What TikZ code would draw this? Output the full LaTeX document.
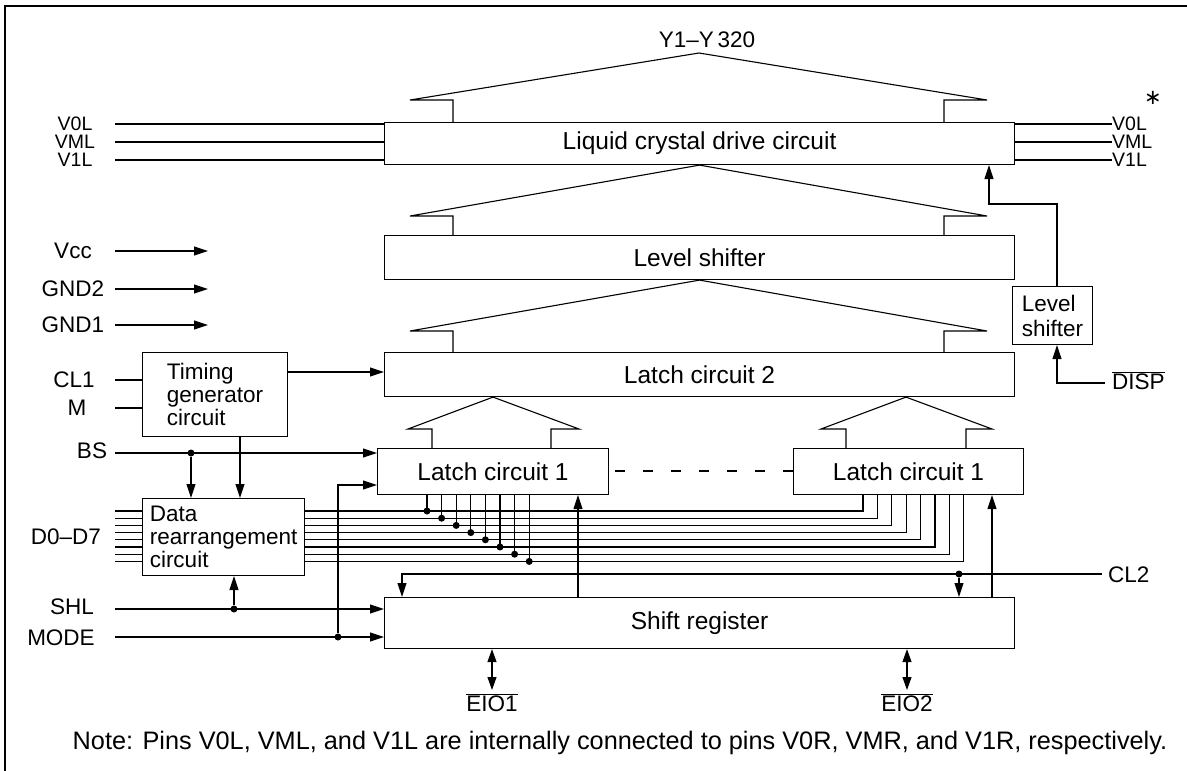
\documentclass[tikz,border=0pt]{standalone}
\usepackage{fontspec}
\setmainfont{Liberation Sans}
\newfontfamily\symfont{DejaVu Sans}
\usetikzlibrary{arrows.meta,calc}

\tikzset{
  wire/.style={line width=1.1pt},
  arr/.style={wire, -{Triangle[length=14pt,width=9pt]}},
  darr/.style={wire, {Triangle[length=13pt,width=9pt]}-{Triangle[length=13pt,width=9pt]}},
  blk/.style={draw, line width=1.1pt, anchor=north west, inner sep=0pt},
  bigtxt/.style={font=\fontsize{24.5}{26}\selectfont},
  lbl/.style={inner sep=0pt},
  vlbl/.style={inner sep=0pt, font=\fontsize{19.5}{20}\selectfont},
  pin/.style={fill, circle, inner sep=0pt, minimum size=7pt},
}
\newcommand{\ovl}[1]{$\overline{\mbox{#1}}$}

\begin{document}
\begin{tikzpicture}[x=1pt, y=-1pt, font=\fontsize{22.5}{23}\selectfont]
  %%%%% START %%%%%
  \useasboundingbox (0,0) rectangle (1187,771);
  \draw[wire] (5,771) -- (5,6) -- (1187,6);

  % blocks
  \node[blk, bigtxt, minimum width=630pt, minimum height=42pt] (lcd) at (384,122) {Liquid crystal drive circuit};
  \node[blk, bigtxt, minimum width=630pt, minimum height=44pt] (ls) at (384,235) {Level shifter};
  \node[blk, bigtxt, minimum width=630pt, minimum height=44pt] (l2) at (384,352) {Latch circuit 2};
  \node[blk, bigtxt, minimum width=231pt, minimum height=46pt] (l1a) at (377,448) {Latch circuit 1};
  \node[blk, bigtxt, minimum width=230pt, minimum height=46pt] (l1b) at (793,448) {Latch circuit 1};
  \node[blk, bigtxt, minimum width=630pt, minimum height=51pt] (sr) at (384,597) {Shift register};
  \node[blk, align=left, minimum width=145pt, minimum height=84pt] (tg) at (142,352) {Timing\\generator\\circuit};
  \node[blk, align=left, minimum width=162pt, minimum height=77pt] (dr) at (142,498) {Data\\rearrangement\\circuit};
  \node[blk, align=left, minimum width=80pt, minimum height=58pt, font=\fontsize{22.5}{25}\selectfont] (sls) at (1012,286) {Level\\shifter};

  % fans
  \coordinate (ytop) at (699,53);
  \node[lbl] (yout) at (707,40) {Y1--Y\,320};
  \draw[wire] (lcd.north -| 453,0) -- (453,100) -- (410,100) -- (ytop) -- (987,100) -- (944,100) -- (lcd.north -| 944,0);
  \draw[wire] (ls.north -| 453,0) -- (453,216) -- (410,216) -- (lcd.south) -- (987,216) -- (944,216) -- (ls.north -| 944,0);
  \draw[wire] (l2.north -| 453,0) -- (453,331) -- (410,331) -- (ls.south) -- (987,331) -- (944,331) -- (l2.north -| 944,0);
  \draw[wire] (l1a.north -| 432,0) -- (432,429) -- (408,429) -- (l2.south -| 493,0) -- (579,429) -- (551,429) -- (l1a.north -| 551,0);
  \draw[wire] (l1b.north -| 846,0) -- (846,429) -- (821,429) -- (l2.south -| 906,0) -- (992,429) -- (966,429) -- (l1b.north -| 966,0);
  \draw[wire, dash pattern=on 10pt off 18pt] (615,471) -- (l1b.west |- 0,471);

  % supply pins
  \foreach \t/\y in {V0L/124, VML/142, V1L/160} {
    \node[vlbl] (vl\t) at (75,\y) {\t};
    \node[vlbl, anchor=west] (vr\t) at (1112,\y) {\t};
    \draw[wire] (115,\y) -- (lcd.west |- 0,\y);
    \draw[wire] (lcd.east |- 0,\y) -- (vr\t.west);
  }
  \node[lbl, font=\fontsize{21}{21}\symfont] (star) at (1153,98) {∗};
  \foreach \t/\y in {Vcc/251, GND2/289, GND1/325} {
    \node[lbl] (p\t) at (73,\y) {\t};
    \draw[arr] (115,\y) -- (208,\y);
  }

  % control inputs
  \node[lbl] (cl1) at (74,380) {CL1};
  \node[lbl] (mm) at (77,408) {M};
  \draw[wire] (115,380) -- (tg.west |- 0,380);
  \draw[wire] (115,408) -- (tg.west |- 0,408);
  \draw[arr] (tg.east |- 0,372) -- (l2.west |- 0,372);
  \draw[arr] (tg.south -| 240,0) -- (dr.north -| 240,0);

  \node[lbl] (bs) at (92,451) {BS};
  \draw[arr] (115,453) -- (l1a.west |- 0,453);
  \node[pin] (bsdot) at (191,453) {};
  \draw[arr] (bsdot) -- (dr.north -| bsdot);

  \node[lbl] (dd) at (66,537) {D0--D7};
  \foreach \i in {0,...,7} {
    \pgfmathsetmacro{\by}{511+7.2*\i}
    \pgfmathsetmacro{\ax}{427+14.6*\i}
    \pgfmathsetmacro{\bx}{863+14.4*\i}
    \draw[wire] (115,\by) -- (dr.west |- 0,\by);
    \draw[wire] (dr.east |- 0,\by) -- (\bx,\by) -- (l1b.south -| \bx,0);
    \draw[wire] (l1a.south -| \ax,0) -- (\ax,\by) node[pin] {};
  }

  \node[lbl] (shl) at (72,607) {SHL};
  \draw[arr] (115,609) -- (sr.west |- 0,609);
  \node[pin] (shldot) at (234,609) {};
  \draw[arr] (shldot) -- (dr.south -| shldot);

  \node[lbl] (mode) at (61,638) {MODE};
  \draw[arr] (115,637) -- (sr.west |- 0,637);
  \node[pin] (modedot) at (338,637) {};
  \draw[arr] (modedot) -- (338,485) -- (l1a.west |- 0,485);

  \node[lbl, anchor=west] (cl2) at (1108,575) {CL2};
  \draw[arr] (1102,574) -- (402,574) -- (sr.north -| 402,0);
  \node[pin] (cl2dot) at (959,574) {};
  \draw[arr] (cl2dot) -- (sr.north -| cl2dot);

  \draw[arr] (sr.north -| 578,0) -- (l1a.south -| 578,0);
  \draw[arr] (sr.north -| 992,0) -- (l1b.south -| 992,0);

  % display control
  \node[lbl, anchor=west] (disp) at (1112,381) {\ovl{DISP}};
  \draw[arr] (1105,383) -- (1057,383) -- (sls.south -| 1057,0);
  \draw[arr] (sls.north -| 1057,0) -- (1057,204) -- (989,204) -- (lcd.south -| 989,0);

  % enable i/o
  \node[lbl] (eio1) at (492,703) {\ovl{EIO1}};
  \node[lbl] (eio2) at (907,703) {\ovl{EIO2}};
  \draw[darr] (sr.south -| 492,0) -- (492,690);
  \draw[darr] (sr.south -| 907,0) -- (907,690);

  \node[font=\fontsize{25.3}{26}\selectfont] (note) at (620,743) {Note: Pins V0L, VML, and V1L are internally connected to pins V0R, VMR, and V1R, respectively.};
  %%%%% END %%%%%
\end{tikzpicture}
\end{document}
